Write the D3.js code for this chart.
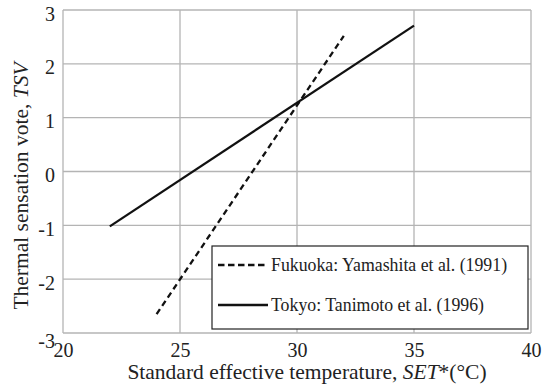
<!DOCTYPE html>
<html lang="en">
<head>
<meta charset="UTF-8">
<title>TSV vs SET*</title>
<style>
  body { margin: 0; background: #fff; }
</style>
</head>
<body>
<div id="chart"></div>
<script src="https://d3js.org/d3.v7.min.js"></script>
<script>
// regression lines (endpoints)
const fukuokaSet = [24, 32];
const fukuokaTsv = [-2.65, 2.52];
const tokyoSet = [22, 35];
const tokyoTsv = [-1.02, 2.71];
const xTicks = [20, 25, 30, 35, 40];
const yTicks = [-3, -2, -1, 0, 1, 2, 3];
const seriesNames = ["Fukuoka: Yamashita et al. (1991)", "Tokyo: Tanimoto et al. (1996)"];

const w = 542, h = 385;
const padL = 63, padR = 531, padT = 10, padB = 333;
const serif = "Liberation Serif";

const svg = d3.select("#chart").append("svg")
  .attr("width", w)
  .attr("height", h)
  .attr("font-family", serif);

const x = d3.scaleLinear().domain([20, 40]).range([padL, padR]);
const y = d3.scaleLinear().domain([-3, 3]).range([padB, padT]);

// grid
svg.append("g").selectAll("line")
  .data(xTicks)
  .enter().append("line")
  .attr("x1", d => x(d)).attr("x2", d => x(d))
  .attr("y1", padT).attr("y2", padB)
  .attr("stroke", "#b4b4b4").attr("stroke-width", 1.3);
svg.append("g").selectAll("line")
  .data(yTicks)
  .enter().append("line")
  .attr("x1", padL).attr("x2", padR)
  .attr("y1", d => y(d)).attr("y2", d => y(d))
  .attr("stroke", "#b4b4b4").attr("stroke-width", 1.3);

// axes (labels only, tick lines hidden)
const xAxis = d3.axisBottom(x).tickValues(xTicks).tickFormat(d => String(d)).tickSize(0).tickPadding(10);
const yAxis = d3.axisLeft(y).tickValues(yTicks).tickFormat(d => String(d)).tickSize(0).tickPadding(8);

svg.append("g")
  .attr("transform", "translate(0," + padB + ")")
  .call(xAxis)
  .attr("font-family", serif).attr("font-size", 20)
  .call(g => g.select(".domain").remove())
  .selectAll("text").attr("fill", "#222");

svg.append("g")
  .attr("transform", "translate(" + padL + ",0)")
  .call(yAxis)
  .attr("font-family", serif).attr("font-size", 20)
  .call(g => g.select(".domain").remove())
  .selectAll("text").attr("fill", "#222")
  .attr("dy", d => d === -3 ? "0.7em" : "0.5em");

// data lines
const line = d3.line().x(d => x(d[0])).y(d => y(d[1]));
svg.append("path")
  .datum(d3.zip(fukuokaSet, fukuokaTsv))
  .attr("d", line)
  .attr("fill", "none").attr("stroke", "#111").attr("stroke-width", 2.3)
  .attr("stroke-dasharray", "6,4");
svg.append("path")
  .datum(d3.zip(tokyoSet, tokyoTsv))
  .attr("d", line)
  .attr("fill", "none").attr("stroke", "#111").attr("stroke-width", 2.3);

// legend
const lg = svg.append("g");
lg.append("rect")
  .attr("x", 212).attr("y", 246).attr("width", 316).attr("height", 83)
  .attr("fill", "#fff").attr("stroke", "#222").attr("stroke-width", 1.2);
const dashes = ["6.5,3.5", null];
seriesNames.forEach((name, i) => {
  const ly = 265 + i * 40;
  lg.append("line")
    .attr("x1", 218).attr("x2", 268).attr("y1", ly).attr("y2", ly)
    .attr("stroke", "#111").attr("stroke-width", 2.3)
    .attr("stroke-dasharray", dashes[i]);
  lg.append("text")
    .attr("x", 271).attr("y", ly + 6)
    .attr("font-size", 17.8).attr("fill", "#222")
    .text(name);
});

// axis titles
const xt = svg.append("text")
  .attr("x", 307).attr("y", 379)
  .attr("text-anchor", "middle").attr("font-size", 21.5).attr("fill", "#222");
xt.append("tspan").text("Standard effective temperature, ");
xt.append("tspan").attr("font-style", "italic").text("SET");
xt.append("tspan").text("*(°C)");

const yt = svg.append("text")
  .attr("transform", "translate(28,186) rotate(-90)")
  .attr("text-anchor", "middle").attr("font-size", 21.5).attr("fill", "#222");
yt.append("tspan").text("Thermal sensation vote, ");
yt.append("tspan").attr("font-style", "italic").text("TSV");
</script>
</body>
</html>
